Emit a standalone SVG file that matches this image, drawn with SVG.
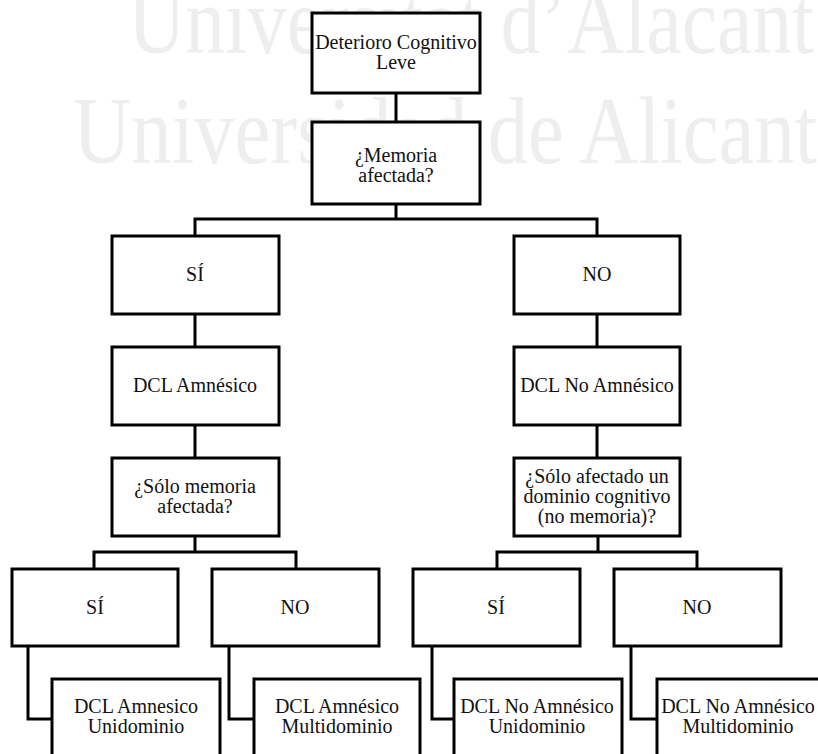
<svg xmlns="http://www.w3.org/2000/svg" width="818" height="754" viewBox="0 0 818 754">
  <defs>
    <style>
      .wm { font-family: "Liberation Serif", "Times New Roman", serif; font-size: 95px; fill: #eeeeee; }
      .box { fill: #ffffff; stroke: #000000; stroke-width: 3; }
      .lbl { font-family: "Liberation Serif", "Times New Roman", serif; font-size: 20px; fill: #111111; text-anchor: middle; }
      .wire { fill: none; stroke: #000000; stroke-width: 3; stroke-linejoin: miter; }
    </style>
  </defs>

  <rect x="0" y="0" width="818" height="754" fill="#ffffff"/>

  <!-- background watermark -->
  <g id="watermark">
    <text class="wm" x="128" y="53" textLength="686" lengthAdjust="spacingAndGlyphs">Universitat d’Alacant</text>
    <text class="wm" x="73" y="163" textLength="780" lengthAdjust="spacingAndGlyphs">Universidad de Alicante</text>
  </g>

  <!-- connectors -->
  <g id="connectors">
    <path class="wire" d="M396 93 V122"/>
    <path class="wire" d="M396 204 V219 M195 236 V219 H597 V236"/>
    <path class="wire" d="M195 314 V347"/>
    <path class="wire" d="M597 314 V347"/>
    <path class="wire" d="M195 425 V458"/>
    <path class="wire" d="M597 425 V458"/>
    <path class="wire" d="M195 536 V552 M94 569 V552 H296 V569"/>
    <path class="wire" d="M598 536 V552 M497 569 V552 H697 V569"/>
    <path class="wire" d="M28 646 V719 H52"/>
    <path class="wire" d="M229 646 V719 H254"/>
    <path class="wire" d="M432 646 V719 H454"/>
    <path class="wire" d="M631 646 V719 H657"/>
  </g>

  <g id="n-root">
    <rect class="box" x="312" y="13" width="168" height="80"/>
    <text class="lbl" x="396" y="49">Deterioro Cognitivo</text>
    <text class="lbl" x="396" y="69">Leve</text>
  </g>

  <g id="n-memoria">
    <rect class="box" x="312" y="122" width="168" height="82"/>
    <text class="lbl" x="396" y="162">¿Memoria</text>
    <text class="lbl" x="396" y="182">afectada?</text>
  </g>

  <g id="n-si">
    <rect class="box" x="112" y="236" width="167" height="78"/>
    <text class="lbl" x="195" y="281">SÍ</text>
  </g>

  <g id="n-no">
    <rect class="box" x="514" y="236" width="166" height="78"/>
    <text class="lbl" x="597" y="281">NO</text>
  </g>

  <g id="n-amnesico">
    <rect class="box" x="112" y="347" width="167" height="78"/>
    <text class="lbl" x="195" y="392">DCL Amnésico</text>
  </g>

  <g id="n-no-amnesico">
    <rect class="box" x="514" y="347" width="166" height="78"/>
    <text class="lbl" x="597" y="392">DCL No Amnésico</text>
  </g>

  <g id="n-solo-memoria">
    <rect class="box" x="112" y="458" width="167" height="78"/>
    <text class="lbl" x="195" y="493">¿Sólo memoria</text>
    <text class="lbl" x="195" y="513">afectada?</text>
  </g>

  <g id="n-solo-dominio">
    <rect class="box" x="514" y="458" width="166" height="78"/>
    <text class="lbl" x="597" y="483">¿Sólo afectado un</text>
    <text class="lbl" x="597" y="503">dominio cognitivo</text>
    <text class="lbl" x="597" y="523">(no memoria)?</text>
  </g>

  <g id="n-a-si">
    <rect class="box" x="12" y="569" width="166" height="77"/>
    <text class="lbl" x="95" y="614">SÍ</text>
  </g>

  <g id="n-a-no">
    <rect class="box" x="212" y="569" width="167" height="77"/>
    <text class="lbl" x="295" y="614">NO</text>
  </g>

  <g id="n-na-si">
    <rect class="box" x="413" y="569" width="167" height="77"/>
    <text class="lbl" x="496" y="614">SÍ</text>
  </g>

  <g id="n-na-no">
    <rect class="box" x="614" y="569" width="167" height="77"/>
    <text class="lbl" x="697" y="614">NO</text>
  </g>

  <g id="n-a-uni">
    <rect class="box" x="52" y="679" width="168" height="84"/>
    <text class="lbl" x="136" y="713">DCL Amnesico</text>
    <text class="lbl" x="136" y="733">Unidominio</text>
  </g>

  <g id="n-a-multi">
    <rect class="box" x="254" y="679" width="166" height="84"/>
    <text class="lbl" x="337" y="713">DCL Amnésico</text>
    <text class="lbl" x="337" y="733">Multidominio</text>
  </g>

  <g id="n-na-uni">
    <rect class="box" x="454" y="679" width="168" height="84"/>
    <text class="lbl" x="537" y="713">DCL No Amnésico</text>
    <text class="lbl" x="537" y="733">Unidominio</text>
  </g>

  <g id="n-na-multi">
    <rect class="box" x="657" y="679" width="168" height="84"/>
    <text class="lbl" x="738" y="713">DCL No Amnésico</text>
    <text class="lbl" x="738" y="733">Multidominio</text>
  </g>
</svg>
